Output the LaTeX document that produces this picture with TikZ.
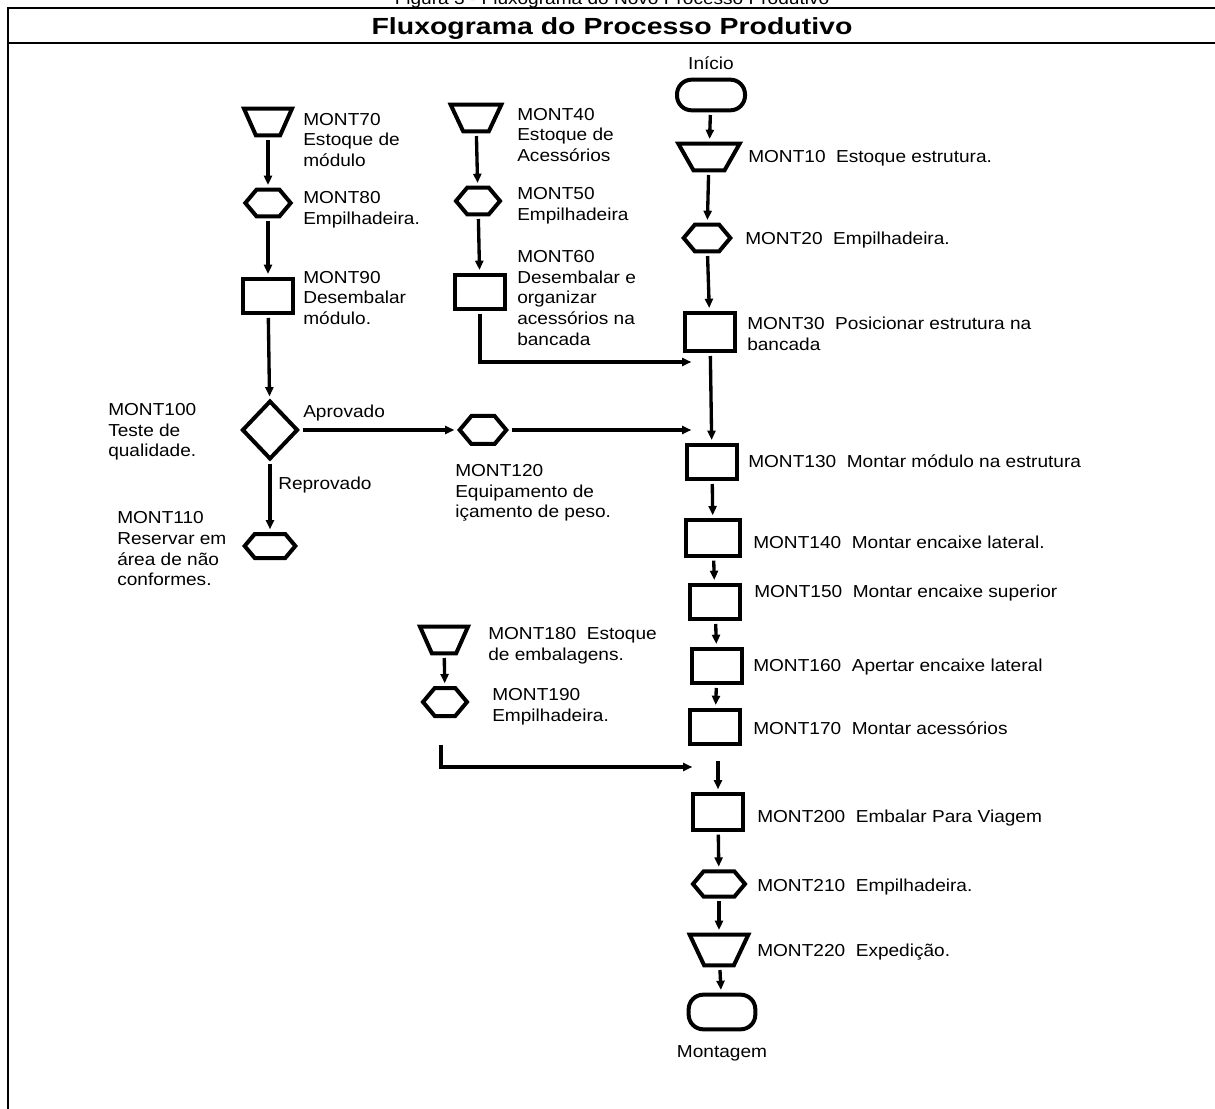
\documentclass[tikz,border=0pt]{standalone}
\usepackage{fontspec}
\setmainfont{Liberation Sans}[FakeStretch=1.1]
\newfontfamily\titulofonte{Liberation Sans}[FakeStretch=1.22]
\usetikzlibrary{shapes.geometric}
\usetikzlibrary{shapes.symbols}
\usetikzlibrary{arrows.meta}
\tikzset{
	texto/.style={inner sep=0,font=\fontsize{13}{15.5}\selectfont},
	rotulo/.style={texto,anchor=west,align=left},
	etapa/.style={shape=rectangle,draw,line width=3pt,minimum width=38pt,minimum height=26pt,inner sep=1pt},
	estoque/.style={shape=trapezium,draw,line width=3pt,trapezium angle=64,trapezium stretches=true,shape border rotate=180,minimum width=38pt,minimum height=20pt,inner sep=1pt},
	transporte/.style={shape=signal,signal to=east and west,signal pointer angle=100,draw,line width=3pt,minimum width=34pt,minimum height=20pt,inner sep=1pt},
	terminal/.style={shape=rectangle,draw,line width=3pt,rounded corners=11pt,minimum width=51pt,minimum height=23pt,inner sep=1pt},
	decisao/.style={shape=diamond,draw,line width=3pt,minimum width=42pt,minimum height=44pt,inner sep=1pt},
	seta/.style={line width=2.5pt,-{Triangle[length=7pt,width=6pt]},shorten <=2pt,shorten >=2pt}
}
\begin{document}
\begin{tikzpicture}[x=0.75pt,y=-0.75pt]
	\useasboundingbox (0,0) rectangle (1215,1109);
	\draw[line width=0.8pt] (8,1109) -- (8,8) -- (1215,8);
	\draw[line width=1.6pt] (8,43) -- (1215,43);
	\draw (612,5) node (leg) [texto,anchor=base] {Figura 3 - Fluxograma do Novo Processo Produtivo};
	\draw (612,35) node (tit) [inner sep=0,anchor=base,font=\titulofonte\bfseries\fontsize{17.5}{20}\selectfont] {Fluxograma do Processo Produtivo};
	\draw (711,70) node (iniT) [texto,anchor=base] {Início};
	\draw (711,95) node (ini) [terminal] {};
	\draw (709,157) node (m10) [estoque,minimum width=46pt] {};
	\draw (748,158) node (m10t) [rotulo] {MONT10~~Estoque estrutura.};
	\draw (707,238) node (m20) [transporte,minimum width=35pt] {};
	\draw (745,240) node (m20t) [rotulo] {MONT20~~Empilhadeira.};
	\draw (710,332) node (m30) [etapa,minimum height=29pt] {};
	\draw (747,334) node (m30t) [rotulo] {MONT30~~Posicionar estrutura na\\bancada};
	\draw (712,462) node (m130) [etapa] {};
	\draw (748,461) node (m130t) [rotulo] {MONT130~~Montar módulo na estrutura};
	\draw (713,538) node (m140) [etapa,minimum width=40pt,minimum height=27pt] {};
	\draw (753,542) node (m140t) [rotulo] {MONT140~~Montar encaixe lateral.};
	\draw (715,602) node (m150) [etapa] {};
	\draw (754,593) node (m150t) [rotulo] {MONT150~~Montar encaixe superior};
	\draw (717,666) node (m160) [etapa] {};
	\draw (753,667) node (m160t) [rotulo] {MONT160~~Apertar encaixe lateral};
	\draw (715,727) node (m170) [etapa] {};
	\draw (753,728) node (m170t) [rotulo] {MONT170~~Montar acessórios};
	\draw (718,812) node (m200) [etapa,minimum height=27pt] {};
	\draw (757,818) node (m200t) [rotulo] {MONT200~~Embalar Para Viagem};
	\draw (719,884) node (m210) [transporte,minimum width=39pt,minimum height=19pt] {};
	\draw (757,887) node (m210t) [rotulo] {MONT210~~Empilhadeira.};
	\draw (719,950) node (m220) [estoque,minimum width=44pt,minimum height=23pt] {};
	\draw (757,952) node (m220t) [rotulo] {MONT220~~Expedição.};
	\draw (722,1012) node (fim) [terminal,minimum width=50pt,minimum height=26pt] {};
	\draw (722,1053) node (fimT) [texto] {Montagem};
	\draw (268,122) node (m70) [estoque,minimum width=36pt] {};
	\draw (303,140) node (m70t) [rotulo] {MONT70\\Estoque de\\módulo};
	\draw (268,203) node (m80) [transporte] {};
	\draw (303,210) node (m80t) [rotulo] {MONT80\\Empilhadeira.};
	\draw (268,296) node (m90) [etapa] {};
	\draw (303,298) node (m90t) [rotulo] {MONT90\\Desembalar\\módulo.};
	\draw (270,430) node (m100) [decisao] {};
	\draw (108,432) node (m100t) [rotulo] {MONT100\\Teste de\\qualidade.};
	\draw (303,413) node (aprov) [rotulo] {Aprovado};
	\draw (278,485) node (reprov) [rotulo] {Reprovado};
	\draw (270,546) node (m110) [transporte,minimum width=38pt,minimum height=18pt] {};
	\draw (117,549) node (m110t) [rotulo] {MONT110\\Reservar em\\área de não\\conformes.};
	\draw (483,430) node (m120) [transporte,minimum width=35pt,minimum height=21pt] {};
	\draw (455,493) node (m120t) [rotulo] {MONT120\\Equipamento de\\içamento de peso.};
	\draw (476,118) node (m40) [estoque] {};
	\draw (517,135) node (m40t) [rotulo] {MONT40\\Estoque de\\Acessórios};
	\draw (478,201) node (m50) [transporte,minimum width=33pt] {};
	\draw (517,206) node (m50t) [rotulo] {MONT50\\Empilhadeira};
	\draw (480,292) node (m60) [etapa] {};
	\draw (517,298) node (m60t) [rotulo] {MONT60\\Desembalar e\\organizar\\acessórios na\\bancada};
	\draw (444,640) node (m180) [estoque,minimum width=36pt] {};
	\draw (488,646) node (m180t) [rotulo] {MONT180~~Estoque\\de embalagens.};
	\draw (445,702) node (m190) [transporte,minimum width=33pt,minimum height=21pt] {};
	\draw (492,707) node (m190t) [rotulo] {MONT190\\Empilhadeira.};
	\foreach \i / \j in {ini/m10,m10/m20,m20/m30,m30/m130,m130/m140,m140/m150,m150/m160,m160/m170,m200/m210,m210/m220,m220/fim,m70/m80,m80/m90,m90/m100,m100/m110,m100/m120,m40/m50,m50/m60,m180/m190} {
		\draw[seta] (\i) -- (\j);
	}
	\draw[seta] (m170.south -| m200) ++(0,12) -- (m200);
	\coordinate (e60) at (694,362);
	\draw[seta] (m60) |- (e60);
	\coordinate (e120) at (694,430);
	\draw[seta] (m120) -- (e120);
	\coordinate (s190) at (441,742);
	\coordinate (e190) at (695,767);
	\draw[seta] (s190) |- (e190);
\end{tikzpicture}
\end{document}
